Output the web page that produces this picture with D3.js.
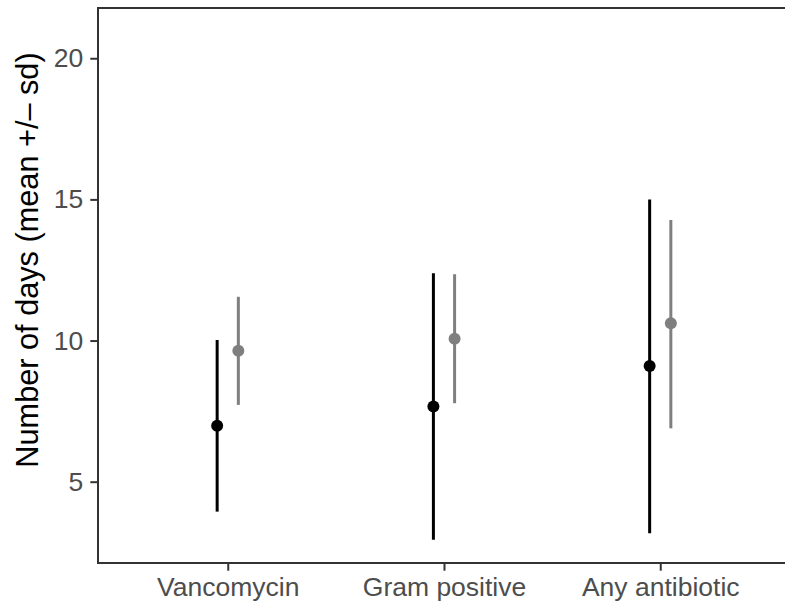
<!DOCTYPE html>
<html>
<head>
<meta charset="utf-8">
<script src="https://cdn.jsdelivr.net/npm/d3@7"></script>
<style>
  body { margin: 0; background: #fff; }
  text { font-family: "Liberation Sans", Arial, sans-serif; }
</style>
</head>
<body>
<div id="chart"></div>
<script>
// data
const categories = ["Vancomycin", "Gram positive", "Any antibiotic"];
const blackMean  = [6.98, 7.66, 9.10];
const blackLow   = [3.94, 2.94, 3.17];
const blackHigh  = [10.02, 12.38, 15.00];
const greyMean   = [9.64, 10.06, 10.61];
const greyLow    = [7.72, 7.78, 6.89];
const greyHigh   = [11.55, 12.35, 14.27];
const yTicks = [5, 10, 15, 20];

const width = 785, height = 603;
const panel = {left: 98, right: 790, top: 8, bottom: 563};

let svg = d3.select("#chart")
    .append("svg")
    .attr("width", width)
    .attr("height", height);

let x = d3.scalePoint()
    .domain(categories)
    .range([panel.left, panel.right])
    .padding(0.6);

let y = d3.scaleLinear()
    .domain([2.12, 21.78])
    .range([panel.bottom, panel.top]);

let dodge = x.step() * 0.049;

let series = [
    {color: "black", off: -dodge, mean: blackMean, low: blackLow, high: blackHigh},
    {color: "#7f7f7f", off: dodge, mean: greyMean, low: greyLow, high: greyHigh}
];

series.forEach(function(s) {
    let rows = categories.map((c, i) => ({cat: c, mean: s.mean[i], low: s.low[i], high: s.high[i]}));
    let g = svg.append("g");
    g.selectAll("line")
        .data(rows)
        .enter()
        .append("line")
        .attr("x1", d => x(d.cat) + s.off)
        .attr("x2", d => x(d.cat) + s.off)
        .attr("y1", d => y(d.low))
        .attr("y2", d => y(d.high))
        .attr("stroke", s.color)
        .attr("stroke-width", 3);
    g.selectAll("circle")
        .data(rows)
        .enter()
        .append("circle")
        .attr("cx", d => x(d.cat) + s.off)
        .attr("cy", d => y(d.mean))
        .attr("r", 6)
        .attr("fill", s.color);
});

// axes
let yAxis = svg.append("g")
    .attr("transform", `translate(${panel.left},0)`)
    .call(d3.axisLeft(y).tickValues(yTicks).tickSize(7.7).tickPadding(7));

let xAxis = svg.append("g")
    .attr("transform", `translate(0,${panel.bottom})`)
    .call(d3.axisBottom(x).tickSize(7.7).tickPadding(6));

[yAxis, xAxis].forEach(function(a) {
    a.select(".domain").remove();
    a.selectAll(".tick line").attr("stroke", "#333333").attr("stroke-width", 2);
    a.selectAll(".tick text")
        .attr("fill", "#4d4d4d")
        .style("font-size", "26.5px");
});
xAxis.selectAll(".tick text").attr("dy", "0.71em");

// axis lines (left, bottom and the top edge)
svg.append("path")
    .attr("d", `M${panel.right},${panel.top}H${panel.left}V${panel.bottom}H${panel.right}`)
    .attr("fill", "none")
    .attr("stroke", "#333333")
    .attr("stroke-width", 2);

svg.append("text")
    .attr("transform", "translate(38,260) rotate(-90)")
    .style("text-anchor", "middle")
    .style("font-size", "30.7px")
    .attr("fill", "black")
    .text("Number of days (mean +/\u2013 sd)");
</script>
</body>
</html>
